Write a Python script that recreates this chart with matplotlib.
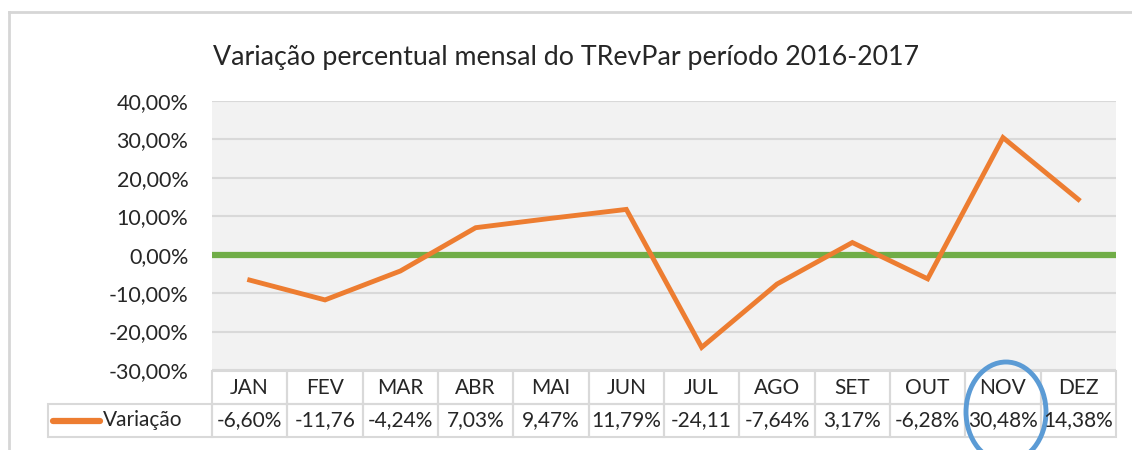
import matplotlib
matplotlib.use("Agg")
import matplotlib.pyplot as plt
import matplotlib.transforms as mtransforms
from matplotlib.patches import Rectangle, Ellipse
from matplotlib.lines import Line2D
from matplotlib.ticker import FuncFormatter, MultipleLocator

MONTHS = ["JAN", "FEV", "MAR", "ABR", "MAI", "JUN", "JUL", "AGO", "SET", "OUT", "NOV", "DEZ"]
VARIACAO = [-6.60, -11.76, -4.24, 7.03, 9.47, 11.79, -24.11, -7.64, 3.17, -6.28, 30.48, 14.38]
# as shown in the data table (two cells are truncated in the original)
TABLE_LABELS = ["-6,60%", "-11,76", "-4,24%", "7,03%", "9,47%", "11,79%",
                "-24,11", "-7,64%", "3,17%", "-6,28%", "30,48%", "14,38%"]
SERIES_NAME = "Variação"
TITLE = "Variação percentual mensal do TRevPar período 2016-2017"

ORANGE, GREEN, BLUE = "#ed7d31", "#70ad47", "#5b9bd5"
GRID = "#d9d9d9"
plt.rcParams["font.family"] = ["Lato", "DejaVu Sans"]

W, H = 1132, 450
fig = plt.figure(figsize=(W / 100, H / 100), dpi=100)

# outer chart frame (only top/left visible in the crop)
fig.add_artist(Line2D([9 / W, 1], [1 - 12 / H, 1 - 12 / H], color="#d6d6d6", lw=2))
fig.add_artist(Line2D([9 / W, 9 / W], [0, 1 - 12 / H], color="#d6d6d6", lw=2))

ax = fig.add_axes([212 / W, 1 - 370 / H, (1116 - 212) / W, (370 - 101) / H])
ax.set_facecolor("#f2f2f2")
x = list(range(len(MONTHS)))
ax.set_xlim(-0.5, len(MONTHS) - 0.5)
ax.set_ylim(-30, 40)
ax.yaxis.set_major_locator(MultipleLocator(10))
ax.yaxis.set_major_formatter(FuncFormatter(lambda v, p: f"{v:.2f}%".replace(".", ",")))
ax.grid(axis="y", color=GRID, lw=1.5)
ax.set_axisbelow(True)
for s in ax.spines.values():
    s.set_visible(False)
ax.tick_params(axis="y", length=0, labelsize=15.5, pad=17, colors="#262626")
ax.set_xticks([])

ax.axhline(0, color=GREEN, lw=4.5, zorder=2)
ax.plot(x, VARIACAO, color=ORANGE, lw=3.5, solid_joinstyle="miter", zorder=3)

fig.text(566 / W, 1 - 57 / H, TITLE, ha="center", va="center", fontsize=19.3, color="#262626")

# data table below the axes
tr = mtransforms.blended_transform_factory(ax.transData, fig.transFigure)
y_top, y_mid, y_bot = 1 - 371 / H, 1 - 404 / H, 1 - 437 / H
for i, (m, lab) in enumerate(zip(MONTHS, TABLE_LABELS)):
    for yb, yt in [(y_mid, y_top), (y_bot, y_mid)]:
        fig.add_artist(Rectangle((i - 0.5, yb), 1, yt - yb, transform=tr,
                                 fill=False, edgecolor=GRID, lw=1.5))
    fig.text(i, (y_top + y_mid) / 2, m, transform=tr, ha="center", va="center",
             fontsize=15, color="#262626")
    fig.text(i, (y_mid + y_bot) / 2, lab, transform=tr, ha="center", va="center",
             fontsize=15, color="#262626")
fig.add_artist(Rectangle((48 / W, y_bot), (212 - 48) / W, y_mid - y_bot,
                         fill=False, edgecolor=GRID, lw=1.5))
ym = (y_mid + y_bot) / 2
fig.add_artist(Line2D([53 / W, 100 / W], [ym, ym], color=ORANGE, lw=4.5,
                      solid_capstyle="round"))
fig.text(103 / W, ym, SERIES_NAME, ha="left", va="center", fontsize=15, color="#262626")

# blue highlight around NOV
fig.add_artist(Ellipse((1006 / W, 1 - 412 / H), 80 / W, 100 / H,
                       fill=False, edgecolor=BLUE, lw=3.5))

fig.savefig("out.png", dpi=100)
